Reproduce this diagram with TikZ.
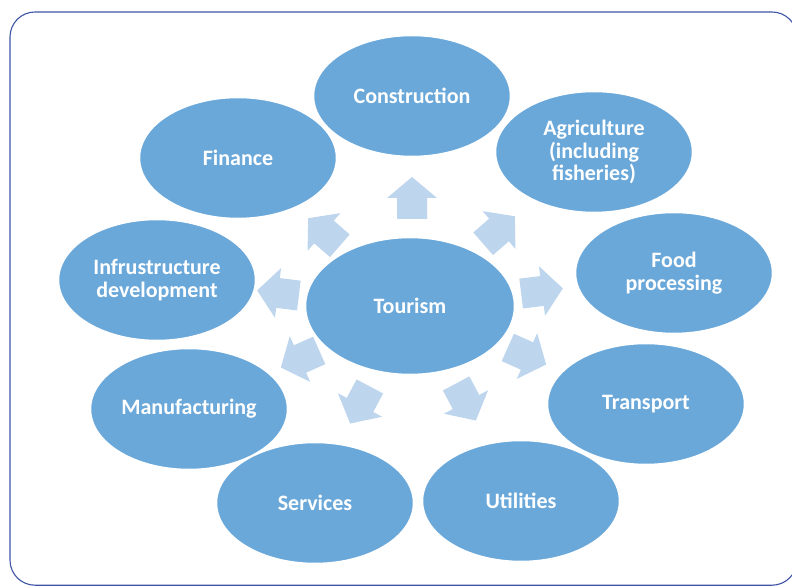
\documentclass[tikz,border=0pt]{standalone}
\usepackage{fontspec}
\setmainfont{Carlito}
\usetikzlibrary{shapes.geometric}
\definecolor{ellblue}{RGB}{106,168,218}
\definecolor{arrblue}{RGB}{190,213,238}
\definecolor{framecol}{RGB}{62,84,166}
\tikzset{
  sector/.style={ellipse, fill=ellblue, draw=white, line width=1.5pt,
    minimum width=197pt, minimum height=121pt, inner sep=0pt,
    text=white, font=\fontsize{22}{22.5}\selectfont\bfseries, align=center},
  hub/.style={sector, minimum width=209pt, minimum height=137pt},
  radarrow/.pic={\fill[arrblue] (-21,-15) -- (0,-15) -- (0,-25) -- (21,0) -- (0,25) -- (0,15) -- (-21,15) -- cycle;}
}
\begin{document}
\begin{tikzpicture}[x=1pt,y=1pt]
\useasboundingbox (0,0) rectangle (792,586);
\fill[white] (0,0) rectangle (792,586);
\draw[framecol, line width=1.1pt, rounded corners=25pt] (10,0.8) rectangle (797,574);
% ellipses (y = 586 - pixel y)
\node[hub] (tour) at (410,280) {Tourism};
\node[sector] (cons) at (412,490) {Construction};
\node[sector] (agri) at (594,434) {Agriculture\\(including\\fisheries)};
\node[sector] (food) at (674,313) {Food\\processing};
\node[sector] (trans) at (646,182) {Transport};
\node[sector] (util) at (521,85) {Utilities};
\node[sector] (manu) at (189,177) {Manufacturing};
\node[sector] (serv) at (315,83) {Services};
\node[sector] (infra) at (157,306) {Infrustructure\\development};
\node[sector] (fin) at (238,428) {Finance};
% radial arrows
\pic[rotate=90]   at (412,388) {radarrow};
\pic[rotate=41]   at (499,356) {radarrow};
\pic[rotate=7]    at (542,295) {radarrow};
\pic[rotate=-24]  at (527,230) {radarrow};
\pic[rotate=-62]  at (466,184) {radarrow};
\pic[rotate=-118] at (360,181) {radarrow};
\pic[rotate=-156] at (300,227) {radarrow};
\pic[rotate=173]  at (278,293) {radarrow};
\pic[rotate=139]  at (324,354) {radarrow};
\end{tikzpicture}
\end{document}
